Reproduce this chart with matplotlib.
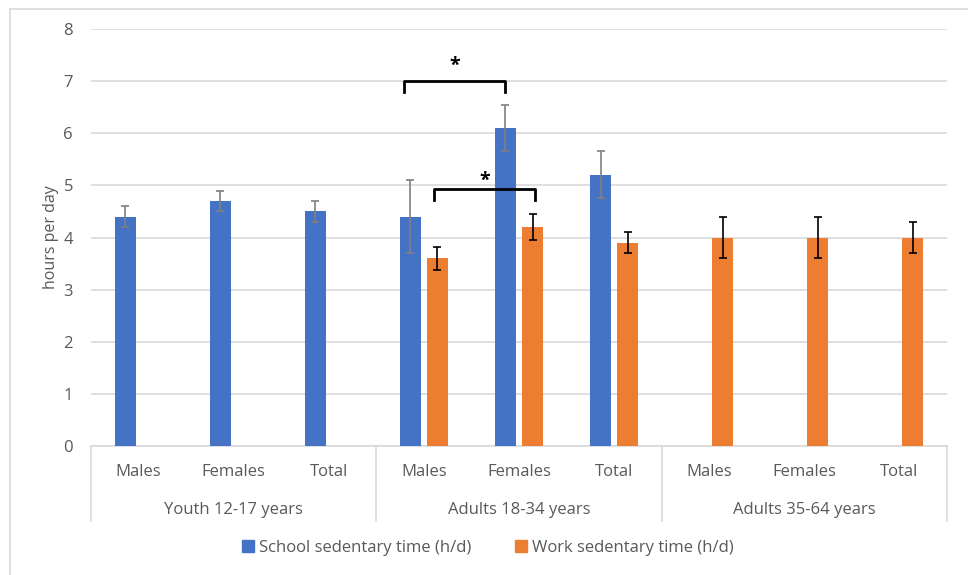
import numpy as np
import matplotlib
matplotlib.use("Agg")
import matplotlib.pyplot as plt
from matplotlib.lines import Line2D

plt.rcParams['font.family'] = ['Open Sans', 'DejaVu Sans']

# ---- data ----
subgroups = ["Males", "Females", "Total"] * 3
age_groups = ["Youth 12-17 years", "Adults 18-34 years", "Adults 35-64 years"]
school = [4.4, 4.7, 4.5, 4.4, 6.1, 5.2, np.nan, np.nan, np.nan]
school_err = [0.2, 0.2, 0.2, 0.7, 0.45, 0.45, np.nan, np.nan, np.nan]
work = [np.nan, np.nan, np.nan, 3.6, 4.2, 3.9, 4.0, 4.0, 4.0]
work_err = [np.nan, np.nan, np.nan, 0.22, 0.25, 0.2, 0.4, 0.4, 0.3]
yticks = [0, 1, 2, 3, 4, 5, 6, 7, 8]
series_names = ["School sedentary time (h/d)", "Work sedentary time (h/d)"]

BLUE = "#4472C4"
ORANGE = "#ED7D31"
GRID = "#d9d9d9"
TXT = "#595959"

fig = plt.figure(figsize=(9.68, 5.75), dpi=100)
ax = fig.add_axes([91/968, 1-446/575, (947-91)/968, (446-29)/575])

x = np.arange(len(subgroups))
off = 0.142
w = 0.22
ax.bar(x - off, school, w, color=BLUE, zorder=3)
ax.bar(x + off, work, w, color=ORANGE, zorder=3)
ax.errorbar(x - off, school, yerr=school_err, fmt='none', ecolor="#7f7f7f",
            elinewidth=1.2, capsize=3, capthick=1.2, zorder=4)
ax.errorbar(x + off, work, yerr=work_err, fmt='none', ecolor="black",
            elinewidth=1.2, capsize=3, capthick=1.2, zorder=4)

ax.set_xlim(-0.5, len(subgroups) - 0.5)
ax.set_ylim(0, 8)
ax.set_yticks(yticks)
ax.set_yticklabels([str(t) for t in yticks], fontsize=12, color=TXT)
ax.tick_params(axis='y', length=0, pad=13)
ax.set_xticks([])
ax.grid(axis='y', color=GRID, linewidth=1.2, zorder=0)
for s in ['top', 'right', 'left']:
    ax.spines[s].set_visible(False)
ax.spines['bottom'].set_color(GRID)
ax.spines['bottom'].set_linewidth(1.2)
ax.set_ylabel("hours per day", fontsize=11.5, color=TXT, labelpad=3)

# multi-level category axis
tr = ax.get_xaxis_transform()
for i, lab in enumerate(subgroups):
    ax.text(x[i], -0.062, lab, transform=tr, ha='center', va='center',
            fontsize=12, color=TXT)
for g, lab in enumerate(age_groups):
    ax.text(x[3*g + 1], -0.153, lab, transform=tr, ha='center', va='center',
            fontsize=12, color=TXT)
for b in [-0.5, 2.5, 5.5, 8.5]:
    ax.plot([b, b], [0, -0.18], transform=tr, color=GRID, lw=1.2,
            clip_on=False, zorder=1)

# significance brackets
def bracket(x1, x2, y, drop, star_y):
    ax.plot([x1, x1, x2, x2], [y - drop, y, y, y - drop], color='black',
            lw=2, solid_joinstyle='round', zorder=5, clip_on=False)
    ax.text((x1 + x2) / 2, star_y, "*", ha='center', va='center',
            fontsize=14, fontweight='bold', color='black')

bracket(x[3] - off - 0.07, x[4] - off, 7.0, 0.21, 7.3)
bracket(x[3] + off - 0.04, x[4] + off + 0.03, 4.93, 0.22, 5.08)

# legend
handles = [plt.Rectangle((0, 0), 1, 1, color=BLUE),
           plt.Rectangle((0, 0), 1, 1, color=ORANGE)]
leg = fig.legend(handles, series_names, loc='center', bbox_to_anchor=(488/968, 1-548/575),
                 ncol=2, frameon=False, fontsize=12, handlelength=0.7,
                 handleheight=0.7, handletextpad=0.3, columnspacing=2.65)
for t in leg.get_texts():
    t.set_color(TXT)

# outer frame
fig.add_artist(Line2D([10/968, 10/968], [0, 1-9/575], color=GRID, lw=1.2))
fig.add_artist(Line2D([10/968, 1], [1-9/575, 1-9/575], color=GRID, lw=1.2))

fig.savefig("out.png", dpi=100)
